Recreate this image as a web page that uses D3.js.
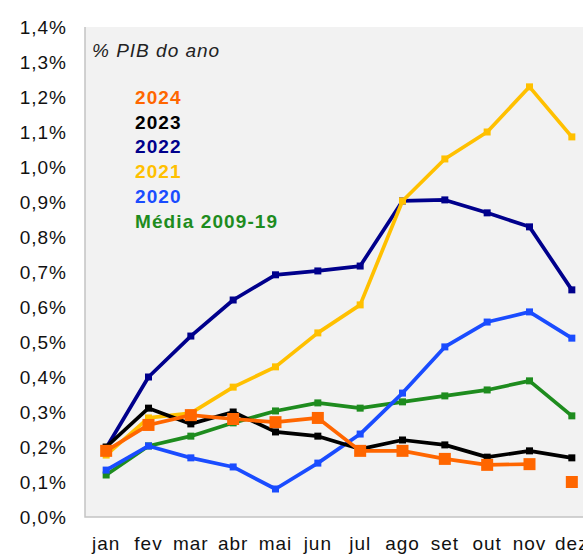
<!DOCTYPE html>
<html>
<head>
<meta charset="utf-8">
<script src="https://cdn.jsdelivr.net/npm/d3@7"></script>
<style>
  body { margin: 0; background: #fff; }
  text { font-family: "Liberation Sans", Arial, sans-serif; }
</style>
</head>
<body>
<div id="chart"></div>
<script>
// meses e valores (% PIB do ano)
var months = ["jan", "fev", "mar", "abr", "mai", "jun", "jul", "ago", "set", "out", "nov", "dez"];
var yTicks = [0, 0.1, 0.2, 0.3, 0.4, 0.5, 0.6, 0.7, 0.8, 0.9, 1.0, 1.1, 1.2, 1.3, 1.4];

var media0919 = [0.12, 0.203, 0.231, 0.269, 0.303, 0.326, 0.311, 0.329, 0.346, 0.363, 0.389, 0.289];
var y2020 = [0.134, 0.203, 0.169, 0.143, 0.08, 0.154, 0.237, 0.354, 0.486, 0.557, 0.586, 0.511];
var y2022 = [0.197, 0.40, 0.517, 0.62, 0.692, 0.703, 0.717, 0.903, 0.906, 0.869, 0.829, 0.649];
var y2021 = [0.177, 0.283, 0.297, 0.371, 0.429, 0.526, 0.606, 0.903, 1.023, 1.10, 1.229, 1.086];
var y2023 = [0.20, 0.311, 0.266, 0.30, 0.243, 0.231, 0.194, 0.22, 0.206, 0.171, 0.189, 0.169];
var y2024 = [0.189, 0.263, 0.291, 0.28, 0.271, 0.283, 0.189, 0.189, 0.166, 0.149, 0.151, 0.10];

var series = [
    {name: "Média 2009-19", values: media0919, color: "#1e8c1e", size: 7},
    {name: "2022", values: y2022, color: "#00008c", size: 7},
    {name: "2021", values: y2021, color: "#ffc000", size: 7},
    {name: "2020", values: y2020, color: "#1a4cff", size: 7},
    {name: "2023", values: y2023, color: "#000000", size: 7},
    {name: "2024", values: y2024, color: "#ff6600", size: 12, lastAlone: true}
];
var legendOrder = ["2024", "2023", "2022", "2021", "2020", "Média 2009-19"];

var width = 583, height = 554,
    plotLeft = 85, plotRight = 593, plotTop = 27, plotBottom = 517;

var svg = d3.select("#chart").append("svg")
    .attr("width", width).attr("height", height);

var x = d3.scalePoint().domain(months).range([plotLeft, plotRight]).padding(0.5);
var y = d3.scaleLinear().domain([0, 1.4]).range([plotBottom, plotTop]);

var pt = d3.formatLocale({decimal: ",", thousands: ".", grouping: [3], currency: ["R$", ""]});
var fmt = pt.format(".1f");

// area do grafico
svg.append("rect")
    .attr("x", plotLeft).attr("y", plotTop)
    .attr("width", plotRight - plotLeft).attr("height", plotBottom - plotTop)
    .attr("fill", "#f2f2f2");
svg.append("path")
    .attr("d", "M" + plotLeft + "," + plotTop + "V" + plotBottom + "H" + plotRight)
    .attr("fill", "none").attr("stroke", "#c4c4c4").attr("stroke-width", 1.5);

// eixo y
svg.append("g").selectAll("text")
    .data(yTicks).enter().append("text")
    .attr("x", 67)
    .attr("y", function(d) { return y(d); })
    .attr("dy", "0.36em")
    .attr("text-anchor", "end")
    .style("font-size", "19px")
    .style("letter-spacing", "1px")
    .attr("fill", "#111")
    .text(function(d) { return fmt(d) + "%"; });

// eixo x
svg.append("g").selectAll("text")
    .data(months).enter().append("text")
    .attr("x", function(d) { return x(d); })
    .attr("y", 550)
    .attr("text-anchor", "middle")
    .style("font-size", "19px")
    .style("letter-spacing", "1px")
    .attr("fill", "#111")
    .text(function(d) { return d; });

var line = d3.line()
    .x(function(d, i) { return x(months[i]); })
    .y(function(d) { return y(d); });

series.forEach(function(s) {
    var g = svg.append("g");
    var pts = s.lastAlone ? s.values.slice(0, s.values.length - 1) : s.values;
    g.append("path")
        .attr("d", line(pts))
        .attr("fill", "none")
        .attr("stroke", s.color)
        .attr("stroke-width", 3.7)
        .attr("stroke-linejoin", "round");
    g.selectAll("rect")
        .data(s.values).enter().append("rect")
        .attr("x", function(d, i) { return x(months[i]) - s.size / 2; })
        .attr("y", function(d) { return y(d) - s.size / 2; })
        .attr("width", s.size).attr("height", s.size)
        .attr("fill", s.color);
});

// titulo e legenda
svg.append("text")
    .attr("x", 92).attr("y", 57)
    .style("font-size", "19px")
    .style("font-style", "italic")
    .style("letter-spacing", "1px")
    .attr("fill", "#222")
    .text("% PIB do ano");

svg.append("g").selectAll("text")
    .data(legendOrder).enter().append("text")
    .attr("x", 135)
    .attr("y", function(d, i) { return 104 + i * 24.7; })
    .style("font-size", "19px")
    .style("font-weight", "bold")
    .style("letter-spacing", "1.1px")
    .attr("fill", function(d) {
        return series.filter(function(s) { return s.name === d; })[0].color;
    })
    .text(function(d) { return d; });
</script>
</body>
</html>
